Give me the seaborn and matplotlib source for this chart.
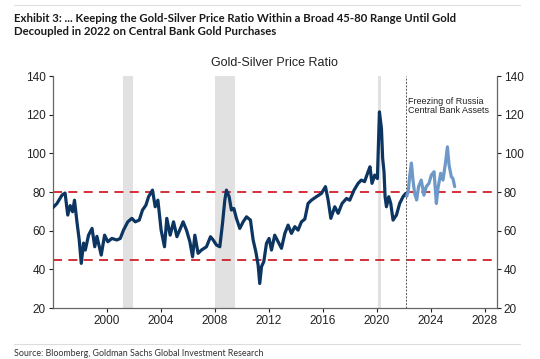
import numpy as np
import pandas as pd
import matplotlib
matplotlib.use("Agg")
import matplotlib.pyplot as plt
import seaborn as sns

# history up to the reserve freeze (year, ratio)
hist_year = [1995.95, 1996.3, 1996.67, 1996.9, 1997.1, 1997.28, 1997.46, 1997.6, 1997.78, 1997.95,
             1998.1, 1998.27, 1998.4, 1998.64, 1998.9, 1999.1, 1999.26, 1999.58, 1999.83, 2000.07,
             2000.37, 2000.74, 2000.99, 2001.23, 2001.55, 2001.85, 2002.1, 2002.4, 2002.64, 2002.89,
             2003.09, 2003.38, 2003.58, 2003.78, 2004.02, 2004.27, 2004.44, 2004.69, 2004.94, 2005.19,
             2005.45, 2005.65, 2005.9, 2006.15, 2006.35, 2006.52, 2006.76, 2007.01, 2007.38, 2007.68,
             2007.88, 2008.12, 2008.37, 2008.57, 2008.74, 2008.86, 2009.06, 2009.23, 2009.41, 2009.6,
             2009.85, 2010.1, 2010.35, 2010.64, 2010.84, 2011.04, 2011.21, 2011.33, 2011.46, 2011.63,
             2011.83, 2012.02, 2012.2, 2012.44, 2012.69, 2012.94, 2013.19, 2013.43, 2013.68, 2013.93,
             2014.17, 2014.42, 2014.67, 2014.91, 2015.16, 2015.53, 2015.9, 2016.2, 2016.4, 2016.6,
             2016.89, 2017.14, 2017.43, 2017.76, 2018.0, 2018.32, 2018.62, 2018.86, 2019.1, 2019.36,
             2019.5, 2019.65, 2019.85, 2020.05, 2020.2, 2020.35, 2020.44, 2020.54, 2020.62, 2020.72,
             2020.89, 2021.04, 2021.21, 2021.46, 2021.7, 2021.95, 2022.15, 2022.22]
hist_ratio = [71.6, 74.1, 78.4, 79.5, 68.1, 73.0, 69.8, 75.8, 64.6, 55.2,
              43.1, 53.6, 50.0, 57.7, 61.2, 51.7, 57.1, 47.4, 57.7, 54.3,
              56.0, 55.2, 56.0, 60.3, 64.6, 66.4, 64.6, 65.5, 70.7, 73.2,
              77.6, 81.0, 72.4, 75.8, 60.3, 51.7, 66.4, 57.7, 64.6, 56.9,
              61.2, 64.6, 60.3, 54.3, 46.5, 57.7, 48.3, 50.0, 51.7, 56.9,
              55.2, 52.6, 51.7, 63.8, 75.8, 81.0, 77.6, 70.7, 71.5, 66.4,
              61.2, 64.6, 67.2, 65.5, 55.2, 49.1, 42.2, 32.7, 41.4, 44.0,
              53.5, 56.0, 50.0, 57.7, 54.3, 50.9, 58.6, 62.9, 58.6, 62.1,
              60.3, 64.6, 66.0, 74.1, 75.8, 77.6, 79.3, 82.8, 75.8, 66.4,
              72.4, 69.0, 74.1, 76.7, 75.8, 81.0, 84.5, 86.2, 85.4, 90.5,
              93.1, 84.5, 88.8, 87.0, 121.5, 112.9, 97.4, 90.5, 77.6, 72.4,
              77.6, 74.1, 65.5, 68.1, 74.1, 77.6, 79.3, 78.0]

# after the freeze
post_year = [2022.22, 2022.33, 2022.44, 2022.57, 2022.69, 2022.81, 2022.96, 2023.1, 2023.3, 2023.5,
             2023.67, 2023.87, 2024.05, 2024.25, 2024.42, 2024.54, 2024.74, 2024.91, 2025.09, 2025.24,
             2025.36, 2025.53, 2025.65, 2025.78]
post_ratio = [78.0, 80.0, 88.0, 95.0, 86.0, 79.3, 75.9, 82.8, 86.2, 78.4,
              82.8, 84.5, 88.8, 90.5, 74.1, 82.0, 89.7, 86.2, 94.8, 103.4,
              94.0, 87.9, 87.0, 82.8]

recessions = [(2001.2, 2001.95), (2008.0, 2009.5), (2020.12, 2020.35)]
freeze_year = 2022.2
band = [45, 80]

hist = pd.DataFrame({"year": hist_year, "ratio": hist_ratio})
post = pd.DataFrame({"year": post_year, "ratio": post_ratio})

sns.set_style("white")
plt.rcParams['font.family'] = ['Liberation Sans', 'DejaVu Sans']

fig = plt.figure(figsize=(5.4, 3.59), dpi=100)
ax = fig.add_axes([0.098, 0.142, 0.822, 0.646])

for a, b in recessions:
    ax.axvspan(a, b, color="#e1e1e1", lw=0, zorder=0)

for lvl in band:
    ax.axhline(lvl, color="#d0202a", lw=1.3, ls=(0, (5, 3.5)), zorder=1)
ax.axvline(freeze_year, color="#555555", lw=0.7, ls=(0, (2, 1.5)), zorder=1)

sns.lineplot(data=hist, x="year", y="ratio", ax=ax, color="#0c3561", lw=2.3, zorder=3)
sns.lineplot(data=post, x="year", y="ratio", ax=ax, color="#6e98c8", lw=2.3, zorder=3)

ax.text(freeze_year + 0.1, 129, "Freezing of Russia\nCentral Bank Assets",
        fontsize=6.5, color="#222222", va="top", ha="left", linespacing=1.0)

ax.set_xlim(1996.0, 2028.9)
ax.set_ylim(20, 140)
ax.set_xticks(range(2000, 2029, 4))
ax.set_yticks(range(20, 141, 20))
ax.set_xlabel("")
ax.set_ylabel("")
ax.tick_params(axis="both", labelsize=8.5, colors="#222222", length=3, width=0.8,
               direction="out", left=True, bottom=True, right=True,
               labelleft=True, labelright=True, pad=2)
for t in ax.get_xticklines() + ax.get_yticklines():
    t.set_color("#666666")
ax.spines["top"].set_visible(False)
for s in ["left", "right", "bottom"]:
    ax.spines[s].set_color("#666666")
    ax.spines[s].set_linewidth(0.9)
ax.set_title("Gold-Silver Price Ratio", fontsize=9, color="#222222", pad=7)

hdr = ['Lato', 'DejaVu Sans']
fig.add_artist(plt.Line2D([14 / 540, 520 / 540], [1 - 5 / 359, 1 - 5 / 359], color="#dddddd", lw=0.8))
fig.text(14 / 540, 1 - 13 / 359, "Exhibit 3: ... Keeping the Gold-Silver Price Ratio Within a Broad 45-80 Range Until Gold\nDecoupled in 2022 on Central Bank Gold Purchases",
         fontsize=8.2, fontweight="bold", family=hdr, color="#1a1a1a", va="top", ha="left", linespacing=1.2)
fig.add_artist(plt.Line2D([14 / 540, 520 / 540], [1 - 344 / 359, 1 - 344 / 359], color="#dddddd", lw=0.8))
fig.text(14 / 540, 1 - 353 / 359, "Source: Bloomberg, Goldman Sachs Global Investment Research",
         fontsize=6.4, family=hdr, color="#333333", va="center", ha="left")

fig.savefig("out.png", dpi=100)
